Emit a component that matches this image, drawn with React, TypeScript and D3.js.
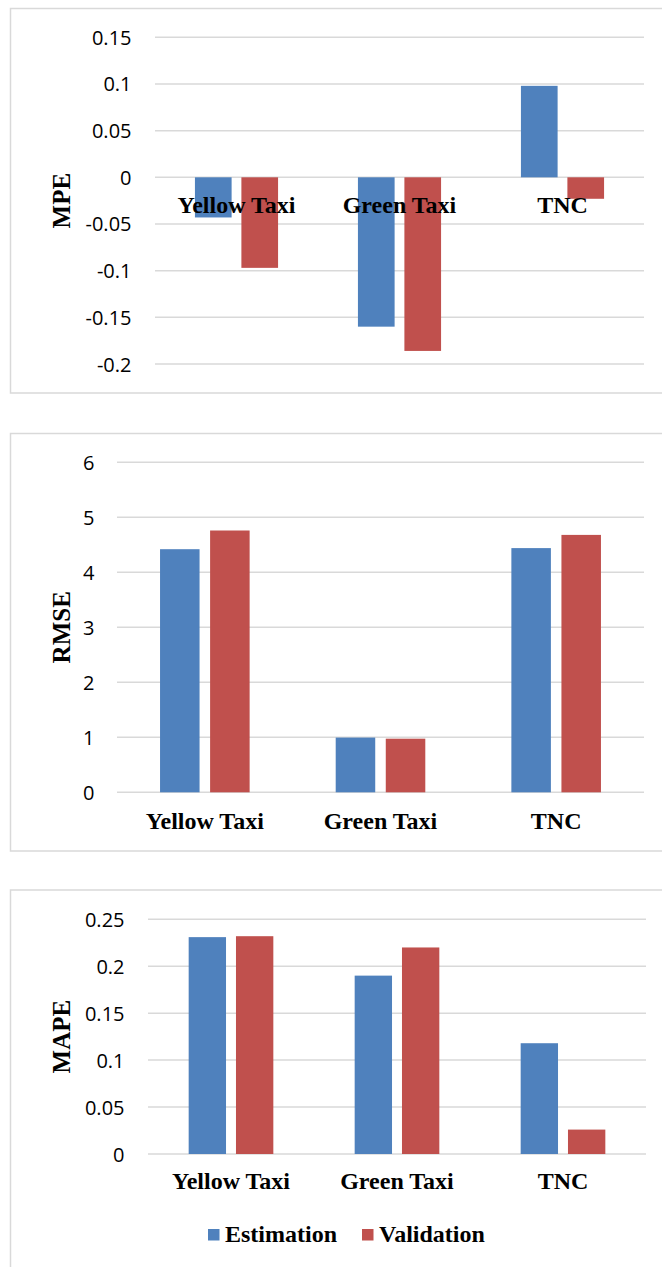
import React from "react";
import * as d3 from "d3";

// Categories and series
const categories = ["Yellow Taxi", "Green Taxi", "TNC"];
const seriesNames = ["Estimation", "Validation"];

// MPE values
const mpeEstimation = [-0.043, -0.16, 0.098];
const mpeValidation = [-0.097, -0.186, -0.023];

// RMSE values
const rmseEstimation = [4.42, 0.995, 4.44];
const rmseValidation = [4.76, 0.975, 4.68];

// MAPE values
const mapeEstimation = [0.231, 0.19, 0.118];
const mapeValidation = [0.232, 0.22, 0.026];

// Tick values
const mpeTicks = [0.15, 0.1, 0.05, 0, -0.05, -0.1, -0.15, -0.2];
const rmseTicks = [6, 5, 4, 3, 2, 1, 0];
const mapeTicks = [0.25, 0.2, 0.15, 0.1, 0.05, 0];

const COLORS = ["#4F81BD", "#C0504D"];
const GRID = "#d9d9d9";
const TICK_FONT = "'Open Sans', 'Liberation Sans', sans-serif";
const SERIF = "'Liberation Serif', 'Times New Roman', serif";

type PanelProps = {
  title: string;
  est: number[];
  val: number[];
  ticks: number[];
  frameTop: number;
  frameBottom: number;
  x0: number;
  x1: number;
  yTop: number;
  yBottom: number;
  tickX: number;
  catY: number;
};

function Panel(p: PanelProps) {
  const domain = d3.extent(p.ticks) as [number, number];
  const y = d3.scaleLinear().domain(domain).range([p.yBottom, p.yTop]);
  const x = d3.scaleBand<string>().domain(categories).range([p.x0, p.x1]);
  const bw = x.bandwidth();
  const barW = bw * 0.225;
  const gap = bw * 0.06;
  const series = [p.est, p.val];
  const fmt = (t: number) => `${+t.toFixed(2)}`;
  const titleCenter = (p.yTop + p.yBottom) / 2;

  return (
    <g>
      <rect
        x={10.5}
        y={p.frameTop}
        width={700}
        height={p.frameBottom - p.frameTop}
        fill="#fff"
        stroke={GRID}
        strokeWidth={1.5}
      />
      {p.ticks.map((t) => (
        <g key={t}>
          <line x1={p.x0} x2={p.x1} y1={y(t)} y2={y(t)} stroke={GRID} strokeWidth={1.5} />
          <text
            x={p.tickX}
            y={y(t)}
            textAnchor="end"
            dominantBaseline="central"
            fontFamily={TICK_FONT}
            fontSize={20}
            fill="#000"
          >
            {fmt(t)}
          </text>
        </g>
      ))}
      {series.map((vals, si) =>
        vals.map((v, ci) => {
          const c = (x(categories[ci]) as number) + bw / 2;
          const bx = si === 0 ? c - gap / 2 - barW : c + gap / 2;
          const y0 = y(0);
          const yv = y(v);
          return (
            <rect
              key={`${si}-${ci}`}
              x={bx}
              y={Math.min(y0, yv)}
              width={barW}
              height={Math.abs(yv - y0)}
              fill={COLORS[si]}
            />
          );
        })
      )}
      {categories.map((c) => (
        <text
          key={c}
          x={(x(c) as number) + bw / 2}
          y={p.catY}
          textAnchor="middle"
          fontFamily={SERIF}
          fontWeight="bold"
          fontSize={24}
          fill="#000"
        >
          {c}
        </text>
      ))}
      <text
        transform={`translate(70,${titleCenter}) rotate(-90)`}
        textAnchor="middle"
        fontFamily={SERIF}
        fontWeight="bold"
        fontSize={25}
        fill="#000"
      >
        {p.title}
      </text>
    </g>
  );
}

export default function App() {
  return (
    <svg
      width={662}
      height={1267}
      style={{ position: "absolute", left: 0, top: 0, background: "#fff" }}
    >
      <rect width={662} height={1267} fill="#fff" />
      <Panel
        title="MPE"
        est={mpeEstimation}
        val={mpeValidation}
        ticks={mpeTicks}
        frameTop={8.5}
        frameBottom={393}
        x0={155}
        x1={644}
        yTop={37.3}
        yBottom={364}
        tickX={131.5}
        catY={213}
      />
      <Panel
        title="RMSE"
        est={rmseEstimation}
        val={rmseValidation}
        ticks={rmseTicks}
        frameTop={433.5}
        frameBottom={851}
        x0={117}
        x1={644}
        yTop={462.3}
        yBottom={792.3}
        tickX={94.5}
        catY={829}
      />
      <Panel
        title="MAPE"
        est={mapeEstimation}
        val={mapeValidation}
        ticks={mapeTicks}
        frameTop={890}
        frameBottom={1290}
        x0={148}
        x1={646}
        yTop={919.3}
        yBottom={1154}
        tickX={124.5}
        catY={1189}
      />
      {/* Legend */}
      {seriesNames.map((name, i) => {
        const sx = [208, 362][i];
        return (
          <g key={name}>
            <rect x={sx} y={1229} width={11.5} height={11.5} fill={COLORS[i]} />
            <text
              x={sx + 17}
              y={1241.5}
              fontFamily={SERIF}
              fontWeight="bold"
              fontSize={24}
              fill="#000"
            >
              {name}
            </text>
          </g>
        );
      })}
    </svg>
  );
}
